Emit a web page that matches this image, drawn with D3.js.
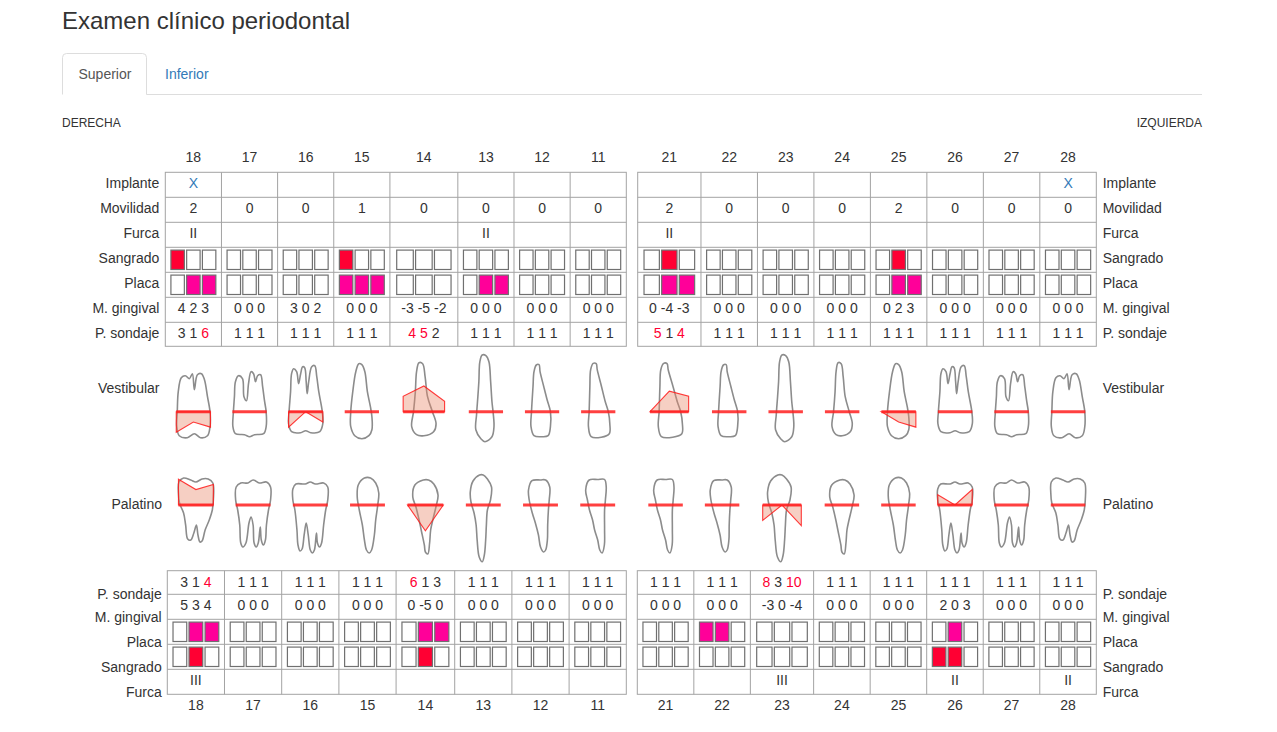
<!DOCTYPE html>
<html>
<head>
<meta charset="utf-8">
<title>Examen clínico periodontal</title>
<script src="https://d3js.org/d3.v7.min.js"></script>
<style>
body { margin: 0; background: #fff; }
svg text { font-family: "Liberation Sans", Arial, Helvetica, sans-serif; }
</style>
</head>
<body>
<svg id="chart" width="1277" height="732"></svg>
<script>
/* --------------------------------------------
 * Periodontograma - arcada superior
 * ============================================
 */

// dientes (derecha / izquierda)
var DIENTES_DER = ["18", "17", "16", "15", "14", "13", "12", "11"];
var DIENTES_IZQ = ["21", "22", "23", "24", "25", "26", "27", "28"];
var DIENTES = DIENTES_DER.concat(DIENTES_IZQ);

var FILAS_VEST = ["Implante", "Movilidad", "Furca", "Sangrado", "Placa", "M. gingival", "P. sondaje"];
var FILAS_PAL = ["P. sondaje", "M. gingival", "Placa", "Sangrado", "Furca"];

// cara vestibular
var IMPLANTE = ["X", "", "", "", "", "", "", "", "", "", "", "", "", "", "", "X"];
var MOVILIDAD = [2, 0, 0, 1, 0, 0, 0, 0, 2, 0, 0, 0, 2, 0, 0, 0];
var FURCA_VEST = ["II", "", "", "", "", "II", "", "", "II", "", "", "", "", "", "", ""];
var SANGRADO_VEST = [[1,0,0],[0,0,0],[0,0,0],[1,0,0],[0,0,0],[0,0,0],[0,0,0],[0,0,0],
                     [0,1,0],[0,0,0],[0,0,0],[0,0,0],[0,1,0],[0,0,0],[0,0,0],[0,0,0]];
var PLACA_VEST = [[0,1,1],[0,0,0],[0,0,0],[1,1,1],[0,0,0],[0,1,1],[0,0,0],[0,0,0],
                  [0,1,1],[0,0,0],[0,0,0],[0,0,0],[0,1,1],[0,0,0],[0,0,0],[0,0,0]];
var MARGEN_VEST = [[4,2,3],[0,0,0],[3,0,2],[0,0,0],[-3,-5,-2],[0,0,0],[0,0,0],[0,0,0],
                   [0,-4,-3],[0,0,0],[0,0,0],[0,0,0],[0,2,3],[0,0,0],[0,0,0],[0,0,0]];
var SONDAJE_VEST = [[3,1,6],[1,1,1],[1,1,1],[1,1,1],[4,5,2],[1,1,1],[1,1,1],[1,1,1],
                    [5,1,4],[1,1,1],[1,1,1],[1,1,1],[1,1,1],[1,1,1],[1,1,1],[1,1,1]];

// cara palatina
var SONDAJE_PAL = [[3,1,4],[1,1,1],[1,1,1],[1,1,1],[6,1,3],[1,1,1],[1,1,1],[1,1,1],
                   [1,1,1],[1,1,1],[8,3,10],[1,1,1],[1,1,1],[1,1,1],[1,1,1],[1,1,1]];
var MARGEN_PAL = [[5,3,4],[0,0,0],[0,0,0],[0,0,0],[0,-5,0],[0,0,0],[0,0,0],[0,0,0],
                  [0,0,0],[0,0,0],[-3,0,-4],[0,0,0],[0,0,0],[2,0,3],[0,0,0],[0,0,0]];
var PLACA_PAL = [[0,1,1],[0,0,0],[0,0,0],[0,0,0],[0,1,1],[0,0,0],[0,0,0],[0,0,0],
                 [0,0,0],[1,1,0],[0,0,0],[0,0,0],[0,0,0],[0,1,0],[0,0,0],[0,0,0]];
var SANGRADO_PAL = [[0,1,0],[0,0,0],[0,0,0],[0,0,0],[0,1,0],[0,0,0],[0,0,0],[0,0,0],
                    [0,0,0],[0,0,0],[0,0,0],[0,0,0],[0,0,0],[1,1,0],[0,0,0],[0,0,0]];
var FURCA_PAL = ["III", "", "", "", "", "", "", "", "", "", "III", "", "", "II", "", "II"];

// constants
// ==========
var TEXT_COLOR = "#333";
var LINK_COLOR = "#337ab7";
var ALERT_COLOR = "#ff0033";
var COLOR_SANGRADO = "#ff0033";
var COLOR_PLACA = "#ff0099";
var GRID_COLOR = "#a3a3a3";
var CELL_PAD = 11.4;
var MM = 5.15;             // px por mm en los dibujos

var SUP = { rowY: [172.3, 197.3, 222.3, 247.3, 272.3, 297.3, 322.3, 346.3],
            left: [165.3, 626.3], right: [637.7, 1096.3],
            labelL: 159.3, labelDy: 16, numY: 161.7 };
var INF = { rowY: [570.7, 594.3, 619.3, 644.3, 669.3, 694.3],
            left: [167.3, 626.3], right: [637.3, 1096.3],
            labelL: 161.7, labelDy: 28, numY: 710 };
var LABEL_R = 1102.7;
var BASE_VEST = 411.7;
var BASE_PAL = 505;

// siluetas de los dientes, por posicion (1..8), [dx, dy] respecto al centro y la linea base
var FORMA_VEST = {
	8: [[-16,0],[-15,-20],[-12,-34],[-8,-36],[-4,-33],[-1,-38],[1,-22],[4,-37],[8,-38],[11,-32],[14,-15],[16.5,0],
	    [16.5,15],[14,24],[7,26],[1,22],[-6,26],[-14,24],[-16.5,15]],
	7: [[-16,0],[-15,-15],[-14,-30],[-11,-36],[-7,-33],[-5.5,-15],[-3,-11],[-1,-28],[1.5,-40],[4,-38],[6,-30],
	    [8,-36],[11,-37],[13,-25],[15,-10],[16.5,0],[16.5,15],[14,22],[5,23],[0,25],[-5,23],[-14,22],[-16.5,15]],
	6: [[-16.5,0],[-15,-20],[-14,-38],[-12,-43],[-9,-40],[-7,-28],[-5,-38],[-3,-45],[-1,-44],[0.5,-30],[1.5,-18],
	    [3,-30],[6,-45],[9,-46],[11,-35],[13,-20],[16.5,0],[17,12],[14,20],[5,21],[0,19],[-5,21],[-14,20],[-17,12]],
	5: [[-3,-48],[0,-47],[3,-40],[5.5,-20],[8.5,-5],[10,5],[10,18],[7,24],[0,27],[-7,24],[-11,15],[-11,0],[-9,-20],[-6,-40]],
	4: [[-4,-49],[-1,-48],[1,-35],[3,-15],[7,0],[10,12],[8,20],[0,24],[-6,23],[-10,15],[-8.5,0],[-7,-20],[-6,-40]],
	3: [[-3.7,-56.7],[0,-56],[3,-50],[4.7,-30],[6,-10],[7.3,2],[8,15],[6,25],[-1,30],[-5,27],[-10,18],[-9.3,3],
	    [-8,-15],[-7,-30],[-6,-50]],
	2: [[-5.7,-46.7],[-3,-47],[-2,-40],[1.7,-25],[5,-12],[8.3,0],[8.3,15],[6,24],[0,25],[-8,24],[-11,15],[-10.5,0],
	    [-9,-25],[-8,-40]],
	1: [[-5,-48.3],[-2,-48],[-1,-42],[3.3,-25],[7,-10],[10,0],[11.5,12],[11,22],[3,25.5],[-7,25],[-9.7,15],[-9,0],
	    [-8.3,-25],[-7.5,-42]]
};
var FORMA_PAL = {
	8: [[-16.5,-23],[-12,-27],[-5,-25],[0,-23],[6,-26],[12,-26],[16.5,-22],[17,-5],[16,5],[13,15],[9,25],[6,36],
	    [4,37],[2,30],[0.5,20],[-2,28],[-5,35],[-8,34],[-10,20],[-12,8],[-16,-2],[-17,-12]],
	7: [[-16.5,-18],[-12,-22],[-5,-22],[0,-25],[6,-22],[13,-23],[17,-18],[17,-5],[15,5],[13,20],[12,35],[10,40],
	    [8,35],[7,22],[5,38],[3,42],[1,38],[0,20],[-2,12],[-4,18],[-7,38],[-10,42],[-12,38],[-13,20],[-15,5],[-17,-5]],
	6: [[-17,-16],[-14,-21],[-5,-21],[0,-23],[5,-21],[13,-22],[17,-18],[17,-5],[15,5],[13,20],[11,38],[9,42],
	    [7,38],[6,28],[4,45],[2,48],[0,45],[-2,30],[-4,18],[-6,30],[-8,44],[-10,46],[-12,40],[-13,25],[-15,5],[-17,-5]],
	5: [[-3,-27],[3,-27],[8,-22],[11,-12],[10,0],[8,15],[6.7,30],[4,45],[1.7,48],[-1,45],[-3,35],[-5,20],[-8,5],
	    [-10,-8],[-9,-20]],
	4: [[-2,-25],[3,-25],[8,-21],[12,-10],[10,2],[7,15],[5,25],[4,38],[2.3,49],[0,47],[-1,40],[-4,25],[-6,15],
	    [-9,2],[-12,-8],[-10,-20]],
	3: [[-3.7,-30],[0,-30],[4,-26],[8,-18],[7,-5],[4,5],[3,20],[2.3,35],[1,50],[-1,56.7],[-4,52],[-6,35],[-7,20],
	    [-9,8],[-12,-3],[-12.7,-13],[-10,-24]],
	2: [[-8.3,-24.3],[0,-25],[5,-25],[9,-18],[8.5,-5],[7.7,5],[7,20],[6.7,35],[5,45],[3,47],[0,42],[-2,30],[-5,18],
	    [-8,8],[-11,-5],[-11.7,-15]],
	1: [[-8.3,-25],[0,-25.5],[6.7,-25.5],[8.3,-18],[7.5,-5],[6.7,5],[6.7,25],[6.5,40],[4.3,48],[2,45],[0,35],
	    [-3,25],[-5,15],[-8,5],[-10,-5],[-11.7,-15]]
};

var svg = d3.select("#chart");

// medir texto para repartir el ancho de las columnas
var meas = svg.append("text").attr("font-size", 14).style("white-space", "pre");
function textWidth(s)
{
	meas.text(s);
	return meas.node().getComputedTextLength();
}

function layoutColumns(teeth, x0, x1, texts)
{
	var need = texts.map(function(t) { return textWidth(t) + 2*CELL_PAD; });
	var fixed = need.map(function() { return false; });
	var share = 0, changed = true;
	while (changed)
	{
		changed = false;
		var used = 0, free = 0;
		for (var i = 0; i < need.length; i++) {
			if (fixed[i]) used += need[i]; else free++;
		}
		share = (x1 - x0 - used) / free;
		for (var i = 0; i < need.length; i++) {
			if (!fixed[i] && need[i] > share) { fixed[i] = true; changed = true; }
		}
	}
	var cols = [], x = x0;
	teeth.forEach(function(t, i) {
		var w = fixed[i] ? need[i] : share;
		cols.push({ tooth: t, x: x, w: w, cx: x + w/2 });
		x += w;
	});
	return cols;
}

function widest(a, b) { return a.map(function(v, i) {
	var s1 = v.join(" "), s2 = b[i].join(" ");
	return textWidth(s1) > textWidth(s2) ? s1 : s2;
}); }

function buildColumns(cfg, textos)
{
	var cols = layoutColumns(DIENTES_DER, cfg.left[0], cfg.left[1], textos.slice(0, 8))
		.concat(layoutColumns(DIENTES_IZQ, cfg.right[0], cfg.right[1], textos.slice(8)));
	return {
		cols: cols,
		x: d3.scaleOrdinal().domain(DIENTES).range(cols.map(function(c) { return c.cx; })),
		w: d3.scaleOrdinal().domain(DIENTES).range(cols.map(function(c) { return c.w; }))
	};
}

var colsSup = buildColumns(SUP, widest(MARGEN_VEST, SONDAJE_VEST));
var colsInf = buildColumns(INF, widest(MARGEN_PAL, SONDAJE_PAL));
meas.remove();

/* ======================================
 * Encabezado
 * ======================================
 */
svg.append("text").attr("x", 62).attr("y", 28.5).attr("font-size", 24)
	.attr("fill", TEXT_COLOR).text("Examen clínico periodontal");

svg.append("path")
	.attr("d", "M62.5,94.5V57.5Q62.5,53.5 66.5,53.5H142.5Q146.5,53.5 146.5,57.5V94.5")
	.attr("fill", "#fff").attr("stroke", "#ddd");
svg.append("line").attr("x1", 146.5).attr("x2", 1202).attr("y1", 94.5).attr("y2", 94.5).attr("stroke", "#ddd");
svg.append("text").attr("x", 78.5).attr("y", 79).attr("font-size", 14).attr("fill", "#555").text("Superior");
svg.append("text").attr("x", 165).attr("y", 79).attr("font-size", 14).attr("fill", LINK_COLOR).text("Inferior");

svg.append("text").attr("x", 62).attr("y", 127.3).attr("font-size", 12).attr("fill", TEXT_COLOR).text("DERECHA");
svg.append("text").attr("x", 1202).attr("y", 127.3).attr("font-size", 12).attr("fill", TEXT_COLOR)
	.attr("text-anchor", "end").text("IZQUIERDA");

/* ======================================
 * Tablas
 * ======================================
 */
function drawTable(cfg, layout, rows)
{
	var g = svg.append("g");
	var top = cfg.rowY[0], bottom = cfg.rowY[cfg.rowY.length - 1];

	// cuadricula
	[cfg.left, cfg.right].forEach(function(half) {
		g.append("rect").attr("x", half[0]).attr("y", top)
			.attr("width", half[1] - half[0]).attr("height", bottom - top)
			.attr("fill", "none").attr("stroke", GRID_COLOR);
		cfg.rowY.slice(1, -1).forEach(function(y) {
			g.append("line").attr("x1", half[0]).attr("x2", half[1]).attr("y1", y).attr("y2", y)
				.attr("stroke", GRID_COLOR);
		});
	});
	g.selectAll("line.col").data(layout.cols.filter(function(c, i) { return i % 8 != 0; }))
		.enter().append("line").attr("class", "col")
		.attr("x1", function(c) { return c.x; }).attr("x2", function(c) { return c.x; })
		.attr("y1", top).attr("y2", bottom).attr("stroke", GRID_COLOR);

	// numeros de dientes
	g.selectAll("text.num").data(DIENTES).enter().append("text").attr("class", "num")
		.attr("x", function(d) { return layout.x(d); }).attr("y", cfg.numY)
		.attr("text-anchor", "middle").attr("font-size", 14).attr("fill", TEXT_COLOR)
		.text(function(d) { return d; });

	rows.forEach(function(row, r) {
		var y0 = cfg.rowY[r], y1 = cfg.rowY[r + 1];

		g.append("text").attr("x", cfg.labelL).attr("y", y0 + cfg.labelDy).attr("text-anchor", "end")
			.attr("font-size", 14).attr("fill", TEXT_COLOR).text(row.label);
		g.append("text").attr("x", LABEL_R).attr("y", y0 + cfg.labelDy)
			.attr("font-size", 14).attr("fill", TEXT_COLOR).text(row.label);

		DIENTES.forEach(function(d, i) {
			var v = row.values[i];
			var cx = layout.x(d), w = layout.w(d);
			if (row.type == "box")
			{
				var gw = w * 0.8, gap = 2.3;
				var bw = (gw - 2*gap) / 3;
				v.forEach(function(on, k) {
					g.append("rect")
						.attr("x", cx - gw/2 + k*(bw + gap)).attr("y", y0 + 2.8)
						.attr("width", bw).attr("height", (y1 - y0) - 5.6)
						.attr("fill", on ? row.fill : "#fff")
						.attr("stroke", "#707070").attr("stroke-width", 1.2);
				});
			}
			else if (row.type == "triple")
			{
				var t = g.append("text").attr("x", cx).attr("y", y0 + 16).attr("text-anchor", "middle")
					.attr("font-size", 14).style("white-space", "pre");
				v.forEach(function(n, k) {
					t.append("tspan")
						.attr("fill", row.alert && n >= 4 ? ALERT_COLOR : TEXT_COLOR)
						.text(n + (k < 2 ? " " : ""));
				});
			}
			else if (v !== "")
			{
				g.append("text").attr("x", cx).attr("y", y0 + 16).attr("text-anchor", "middle")
					.attr("font-size", 14).attr("fill", row.color || TEXT_COLOR).text(v);
			}
		});
	});
}

drawTable(SUP, colsSup, [
	{ label: FILAS_VEST[0], type: "text", values: IMPLANTE, color: LINK_COLOR },
	{ label: FILAS_VEST[1], type: "text", values: MOVILIDAD },
	{ label: FILAS_VEST[2], type: "text", values: FURCA_VEST },
	{ label: FILAS_VEST[3], type: "box", values: SANGRADO_VEST, fill: COLOR_SANGRADO },
	{ label: FILAS_VEST[4], type: "box", values: PLACA_VEST, fill: COLOR_PLACA },
	{ label: FILAS_VEST[5], type: "triple", values: MARGEN_VEST },
	{ label: FILAS_VEST[6], type: "triple", values: SONDAJE_VEST, alert: true }
]);

drawTable(INF, colsInf, [
	{ label: FILAS_PAL[0], type: "triple", values: SONDAJE_PAL, alert: true },
	{ label: FILAS_PAL[1], type: "triple", values: MARGEN_PAL },
	{ label: FILAS_PAL[2], type: "box", values: PLACA_PAL, fill: COLOR_PLACA },
	{ label: FILAS_PAL[3], type: "box", values: SANGRADO_PAL, fill: COLOR_SANGRADO },
	{ label: FILAS_PAL[4], type: "text", values: FURCA_PAL }
]);

/* ======================================
 * Dibujos de los dientes
 * ======================================
 */
var outline = d3.line().curve(d3.curveCatmullRomClosed.alpha(0.5));

function drawTeeth(layout, formas, base, sign, margen, label, labelX, labelY)
{
	var g = svg.append("g");
	// mm -> px; en vestibular crece hacia abajo, en palatino hacia arriba
	var yScale = d3.scaleLinear().domain([0, 1]).range([base, base + sign*MM]);

	g.append("text").attr("x", labelX).attr("y", labelY).attr("text-anchor", "end")
		.attr("font-size", 14).attr("fill", TEXT_COLOR).text(label);
	g.append("text").attr("x", LABEL_R).attr("y", labelY)
		.attr("font-size", 14).attr("fill", TEXT_COLOR).text(label);

	DIENTES.forEach(function(d, i) {
		var cx = layout.x(d), w = layout.w(d);
		var half = w * 0.305;
		var sx = half / 17;
		var forma = formas[+d[1]];

		g.append("path")
			.attr("d", outline(forma.map(function(p) { return [cx + p[0]*sx, base + p[1]]; })))
			.attr("fill", "#fff").attr("stroke", "#8c8c8c").attr("stroke-width", 1.6);

		var m = margen[i];
		if (m.some(function(v) { return v != 0; }))
		{
			var pts = [[cx - half, base], [cx - half, yScale(m[0])], [cx, yScale(m[1])],
			           [cx + half, yScale(m[2])], [cx + half, base]];
			g.append("path").attr("d", "M" + pts.join("L") + "Z")
				.attr("fill", "#e8886a").attr("fill-opacity", 0.4)
				.attr("stroke", "#ff1a1a").attr("stroke-width", 1.1).attr("stroke-opacity", 0.85);
		}

		g.append("line").attr("x1", cx - half).attr("x2", cx + half)
			.attr("y1", base).attr("y2", base)
			.attr("stroke", "#ff1f1f").attr("stroke-opacity", 0.85).attr("stroke-width", 3);
	});
}

drawTeeth(colsSup, FORMA_VEST, BASE_VEST, 1, MARGEN_VEST, "Vestibular", 159.5, 393);
drawTeeth(colsInf, FORMA_PAL, BASE_PAL, -1, MARGEN_PAL, "Palatino", 162, 509);
</script>
</body>
</html>
